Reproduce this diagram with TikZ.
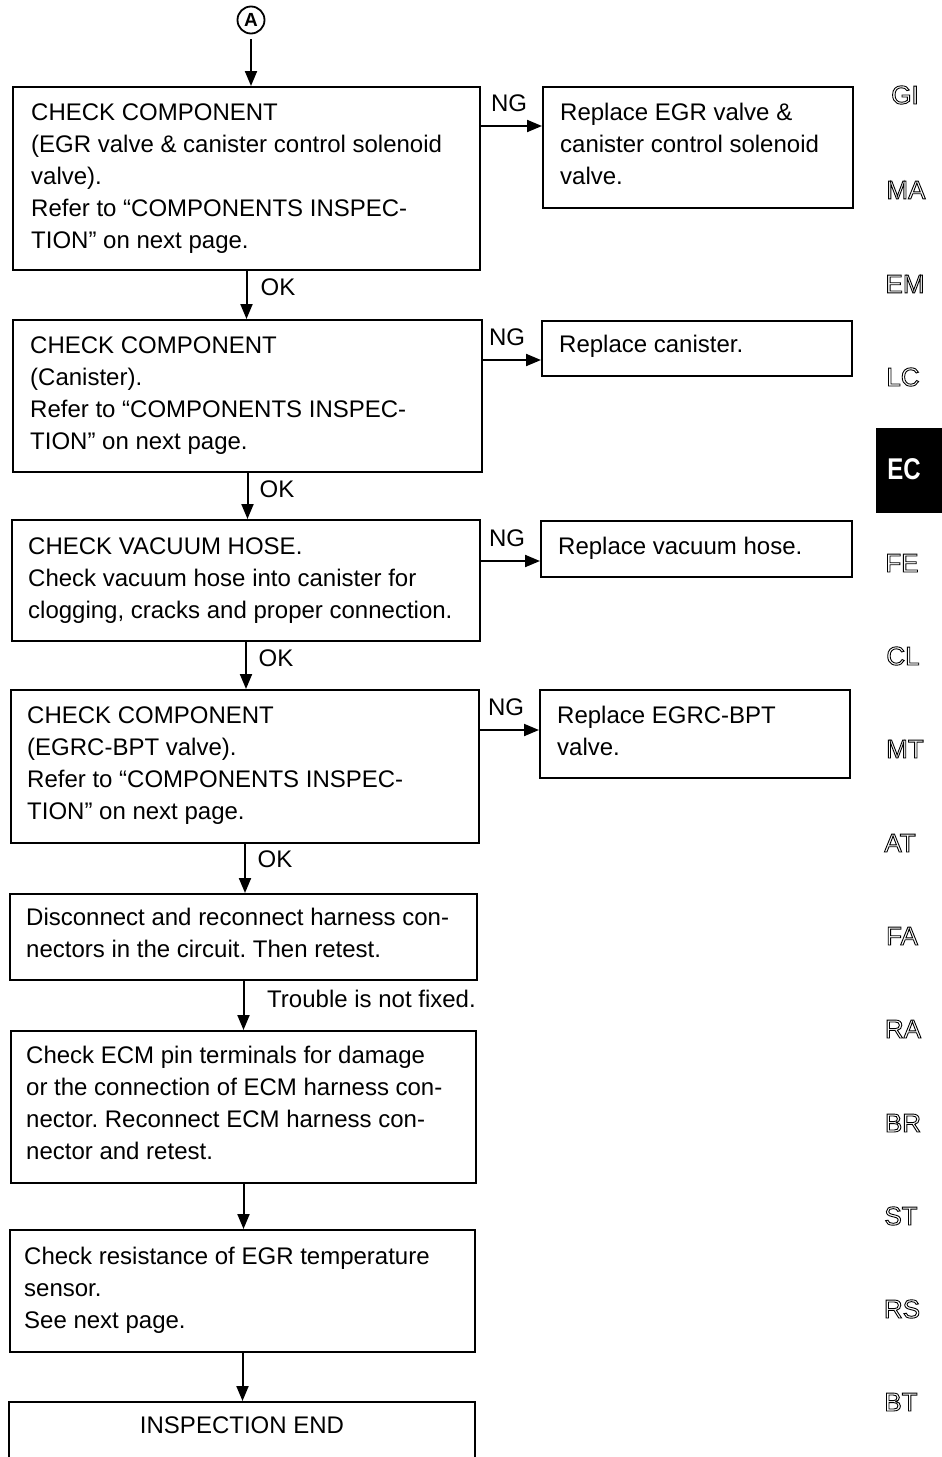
\documentclass[tikz,border=0pt]{standalone}
\usepackage{fontspec}
\setmainfont{Liberation Sans}
\usetikzlibrary{arrows.meta}
\newcommand\outlinetext[1]{\special{pdf:literal direct 1 Tr 0.9 w}#1\special{pdf:literal direct 0 Tr}}
\frenchspacing
\begin{document}
\begin{tikzpicture}[x=1pt,y=-1pt,
  every node/.style={font=\fontsize{24pt}{32pt}\selectfont},
  box/.style={draw, line width=2pt, rectangle, inner sep=0pt},
  txt/.style={inner sep=0pt, align=left, anchor=west},
  lab/.style={inner sep=0pt},
  arr/.style={line width=2pt, -{Triangle[length=15pt,width=12pt]}},
  side/.style={inner sep=0pt, font=\fontsize{26pt}{30pt}\selectfont}]
\useasboundingbox (0,0) rectangle (942,1457);
\fill[white] (0,0) rectangle (942,1457);

% start circle
\node[draw, circle, line width=1.8pt, minimum size=27pt, inner sep=0pt, font=\fontsize{19pt}{19pt}\selectfont\bfseries] (A) at (251,20) {A};

% main boxes
\node[box, minimum width=467pt, minimum height=183pt] (b1) at (246.5,178.5) {};
\node[txt] (b1t) at ([xshift=19pt]b1.west) {CHECK COMPONENT\\(EGR valve \& canister control solenoid\\valve).\\Refer to “COMPONENTS INSPEC-\\TION” on next page.};

\node[box, minimum width=469pt, minimum height=152pt] (b2) at (247.5,396) {};
\node[txt] (b2t) at ([xshift=18pt]b2.west) {CHECK COMPONENT\\(Canister).\\Refer to “COMPONENTS INSPEC-\\TION” on next page.};

\node[box, minimum width=468pt, minimum height=121pt] (b3) at (246,580.5) {};
\node[txt] (b3t) at ([xshift=17pt]b3.west) {CHECK VACUUM HOSE.\\Check vacuum hose into canister for\\clogging, cracks and proper connection.};

\node[box, minimum width=468pt, minimum height=153pt] (b4) at (245,766.5) {};
\node[txt] (b4t) at ([xshift=17pt,yshift=1pt]b4.west) {CHECK COMPONENT\\(EGRC-BPT valve).\\Refer to “COMPONENTS INSPEC-\\TION” on next page.};

\node[box, minimum width=467pt, minimum height=86pt] (b5) at (243.5,937) {};
\node[txt] (b5t) at ([xshift=17pt,yshift=4pt]b5.west) {Disconnect and reconnect harness con-\\nectors in the circuit. Then retest.};

\node[box, minimum width=465pt, minimum height=152pt] (b6) at (243.5,1107) {};
\node[txt] (b6t) at ([xshift=16pt,yshift=4pt]b6.west) {Check ECM pin terminals for damage\\or the connection of ECM harness con-\\nector. Reconnect ECM harness con-\\nector and retest.};

\node[box, minimum width=465pt, minimum height=122pt] (b7) at (242.5,1291) {};
\node[txt] (b7t) at ([xshift=15pt,yshift=1pt]b7.west) {Check resistance of EGR temperature\\sensor.\\See next page.};

\node[box, minimum width=466pt, minimum height=80pt] (b8) at (242,1442) {};
\node[lab] (b8t) at (242,1425) {INSPECTION END};

% replace boxes
\node[box, minimum width=310pt, minimum height=121pt] (r1) at (698,147.5) {};
\node[txt] (r1t) at ([xshift=18pt,yshift=4pt]r1.west) {Replace EGR valve \&\\canister control solenoid\\valve.};

\node[box, minimum width=310pt, minimum height=55pt] (r2) at (697,348.5) {};
\node[txt] (r2t) at ([xshift=18pt,yshift=2pt]r2.west) {Replace canister.};

\node[box, minimum width=311pt, minimum height=56pt] (r3) at (696.5,549) {};
\node[txt] (r3t) at ([xshift=18pt,yshift=1pt]r3.west) {Replace vacuum hose.};

\node[box, minimum width=310pt, minimum height=88pt] (r4) at (695,734) {};
\node[txt] (r4t) at ([xshift=18pt,yshift=3pt]r4.west) {Replace EGRC-BPT\\valve.};

% vertical connectors
\draw[arr] ([yshift=-5pt]A.south) -- (A.south |- b1.north);
\draw[arr] (b1.south) -- (b1.south |- b2.north);
\draw[arr] (b2.south) -- (b2.south |- b3.north);
\draw[arr] (b3.south) -- (b3.south |- b4.north);
\draw[arr] (b4.south) -- (b4.south |- b5.north);
\draw[arr] (b5.south) -- (b5.south |- b6.north);
\draw[arr] (b6.south) -- (b6.south |- b7.north);
\draw[arr] (b7.south) -- (b7.south |- b8.north);

\node[lab] (ok1) at (278,287) {OK};
\node[lab] (ok2) at (277,489) {OK};
\node[lab] (ok3) at (276,658) {OK};
\node[lab] (ok4) at (275,859) {OK};
\node[lab, anchor=west] (tr) at (267,999) {Trouble is not fixed.};

% NG connectors
\coordinate (n1) at ([yshift=-40pt]b1.north east);
\coordinate (n2) at ([yshift=-41pt]b2.north east);
\coordinate (n3) at ([yshift=-42pt]b3.north east);
\coordinate (n4) at ([yshift=-41pt]b4.north east);
\draw[arr] (n1) -- (r1.west |- n1);
\draw[arr] (n2) -- (r2.west |- n2);
\draw[arr] (n3) -- (r3.west |- n3);
\draw[arr] (n4) -- (r4.west |- n4);
\node[lab] (ng1) at (509,103) {NG};
\node[lab] (ng2) at (507,337) {NG};
\node[lab] (ng3) at (507,538) {NG};
\node[lab] (ng4) at (506,707) {NG};

% side index
\fill[black] (876,428) rectangle (942,513);
\node[inner sep=0pt, text=white, font=\fontsize{30pt}{30pt}\selectfont\bfseries, xscale=0.8] (ec) at (904,469) {EC};
\node[side] (gi) at (905,95) {\outlinetext{GI}};
\node[side] (ma) at (906,190) {\outlinetext{MA}};
\node[side] (em) at (905,284) {\outlinetext{EM}};
\node[side] (lc) at (903,377) {\outlinetext{LC}};
\node[side] (fe) at (902,563) {\outlinetext{FE}};
\node[side] (cl) at (903,656) {\outlinetext{CL}};
\node[side] (mt) at (905,749) {\outlinetext{MT}};
\node[side] (at) at (900,843) {\outlinetext{AT}};
\node[side] (fa) at (902,936) {\outlinetext{FA}};
\node[side] (ra) at (903,1029) {\outlinetext{RA}};
\node[side] (br) at (903,1123) {\outlinetext{BR}};
\node[side] (st) at (901,1216) {\outlinetext{ST}};
\node[side] (rs) at (902,1309) {\outlinetext{RS}};
\node[side] (bt) at (901,1402) {\outlinetext{BT}};
\end{tikzpicture}
\end{document}
